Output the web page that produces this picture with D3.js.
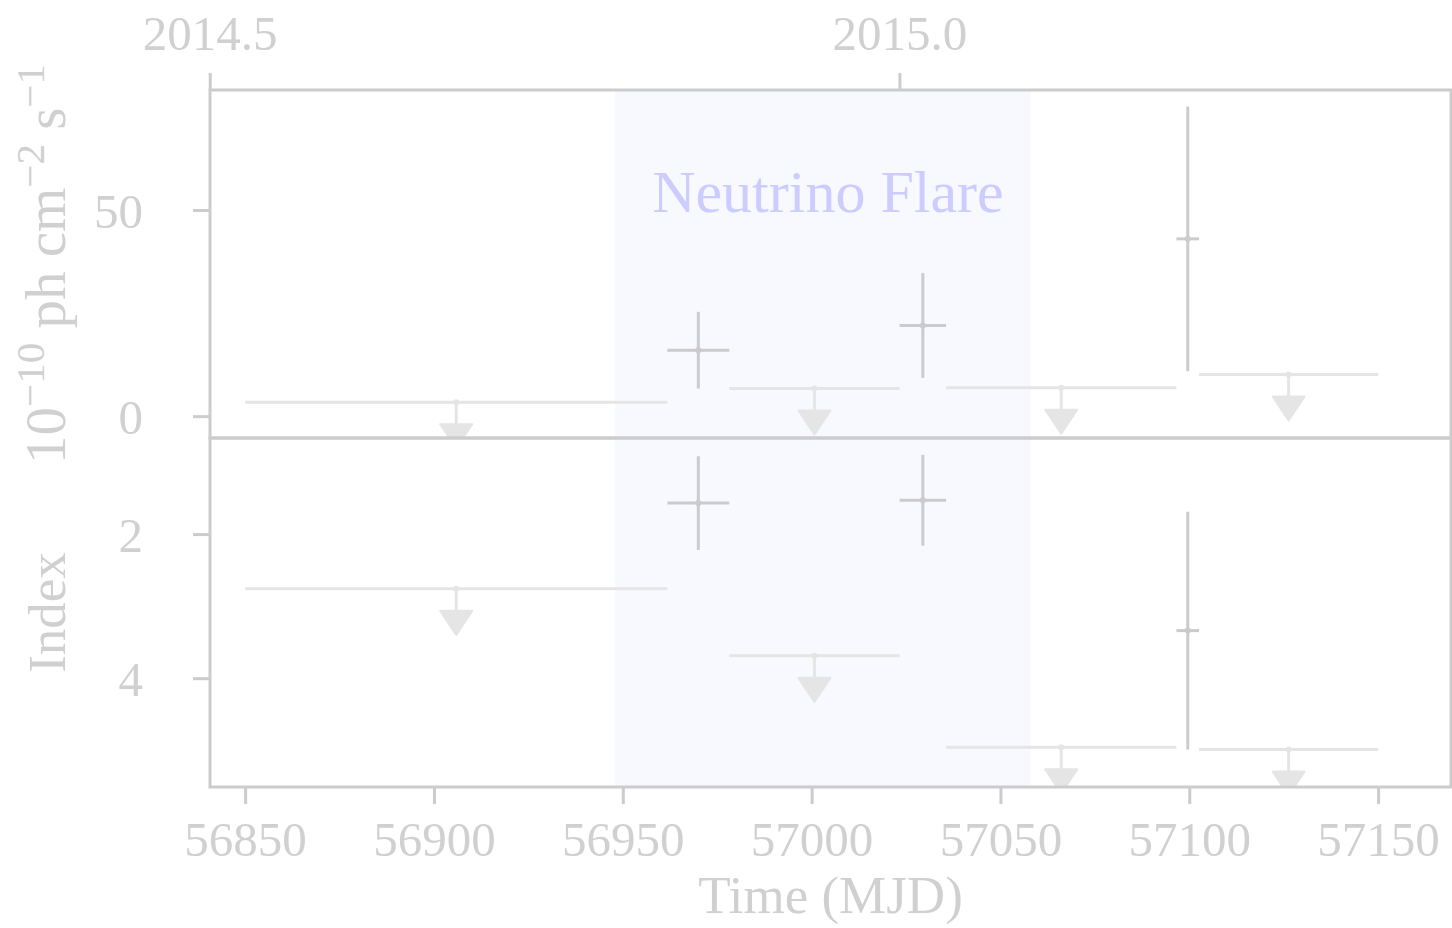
<!DOCTYPE html>
<html>
<head>
<meta charset="utf-8">
<script src="https://cdn.jsdelivr.net/npm/d3@7"></script>
<style>
  html, body { margin: 0; padding: 0; background: #ffffff; }
  svg { display: block; }
  text { font-family: "Liberation Serif", "Times New Roman", serif; }
</style>
</head>
<body>
<svg id="chart" width="1452" height="928"></svg>
<script>
// Fermi-LAT light curve: photon flux and spectral index per time bin (MJD)
const binStart = [56850.0, 56961.8, 56978.2, 57023.3, 57035.6, 57096.6, 57102.6];
const binEnd   = [56961.8, 56978.2, 57023.3, 57035.6, 57096.6, 57102.6, 57150.0];
const isUpperLimit = [true, false, true, false, true, false, true];

// flux in units of 1e-10 ph cm^-2 s^-1
const fluxValues = [3.4, 16.0, 6.7, 22.0, 6.9, 43.0, 10.1];
const fluxErrors = [null, 9.3, null, 12.7, null, 32.1, null];

// photon index (axis drawn inverted)
const indexValues = [2.76, 1.57, 3.69, 1.53, 4.96, 3.34, 4.99];
const indexErrors = [null, 0.65, null, 0.63, null, 1.65, null];

// neutrino flare window (MJD)
const flareWindow = [56948, 57058];
const flareLabel = "Neutrino Flare";

const mjdTicks = [56850, 56900, 56950, 57000, 57050, 57100, 57150];
const fluxTicks = [0, 50];
const indexTicks = [2, 4];
const yearTicks = [2014.5, 2015.0];

// layout
const plotLeft = 210, plotRight = 1451;
const topY0 = 90, midY = 438, botY1 = 787;

const spineColor = "#cccccc";
const labelColor = "#d0d0d0";
const detColor = "#cbcbcb";
const ulColor = "#e5e5e5";
const tickFont = 49;

const svg = d3.select("#chart");

const x = d3.scaleLinear().domain([56840.7, 57169.3]).range([plotLeft, plotRight]);
const yFlux = d3.scaleLinear().domain([-5.3, 79.1]).range([midY, topY0]);
const yIndex = d3.scaleLinear().domain([0.667, 5.51]).range([midY, botY1]);

const mjdToYear = m => 2000 + (m - 51544.5) / 365.25;
const xYear = d3.scaleLinear().domain(x.domain().map(mjdToYear)).range(x.range());

const defs = svg.append("defs");
defs.append("clipPath").attr("id", "clipTop")
  .append("rect").attr("x", plotLeft).attr("y", topY0)
  .attr("width", plotRight - plotLeft).attr("height", midY - topY0);
defs.append("clipPath").attr("id", "clipBot")
  .append("rect").attr("x", plotLeft).attr("y", midY)
  .attr("width", plotRight - plotLeft).attr("height", botY1 - midY);

const rows = binStart.map((s, i) => ({
  start: s, end: binEnd[i], mid: (s + binEnd[i]) / 2, ul: isUpperLimit[i],
  flux: fluxValues[i], fluxErr: fluxErrors[i],
  index: indexValues[i], indexErr: indexErrors[i]
}));

function drawPanel(clipId, y, valueKey, errKey, yTop, yBottom) {
  const g = svg.append("g").attr("clip-path", `url(#${clipId})`);

  // shaded flare window
  g.append("rect")
    .attr("x", x(flareWindow[0])).attr("width", x(flareWindow[1]) - x(flareWindow[0]))
    .attr("y", yTop).attr("height", yBottom - yTop)
    .attr("fill", "#f8f8ff");

  const ul = rows.filter(d => d.ul);
  const det = rows.filter(d => !d.ul);
  const stem = 22, headH = 24, headW = 16;

  // upper limits: horizontal bin bar + downward arrow
  g.selectAll(".ulbar").data(ul).enter().append("line")
    .attr("x1", d => x(d.start)).attr("x2", d => x(d.end))
    .attr("y1", d => y(d[valueKey])).attr("y2", d => y(d[valueKey]))
    .attr("stroke", ulColor).attr("stroke-width", 3);
  g.selectAll(".ulstem").data(ul).enter().append("line")
    .attr("x1", d => x(d.mid)).attr("x2", d => x(d.mid))
    .attr("y1", d => y(d[valueKey])).attr("y2", d => y(d[valueKey]) + stem + 2)
    .attr("stroke", ulColor).attr("stroke-width", 3);
  g.selectAll(".ulhead").data(ul).enter().append("path")
    .attr("d", d => {
      const cx = x(d.mid), t = y(d[valueKey]) + stem;
      return `M${cx - headW},${t}L${cx + headW},${t}L${cx},${t + headH}Z`;
    })
    .attr("fill", ulColor).attr("stroke", ulColor)
    .attr("stroke-width", 2).attr("stroke-linejoin", "round");
  g.selectAll(".uldot").data(ul).enter().append("circle")
    .attr("cx", d => x(d.mid)).attr("cy", d => y(d[valueKey])).attr("r", 3)
    .attr("fill", ulColor);

  // detections: x (bin) and y error bars
  g.selectAll(".xerr").data(det).enter().append("line")
    .attr("x1", d => x(d.start)).attr("x2", d => x(d.end))
    .attr("y1", d => y(d[valueKey])).attr("y2", d => y(d[valueKey]))
    .attr("stroke", detColor).attr("stroke-width", 3);
  g.selectAll(".yerr").data(det).enter().append("line")
    .attr("x1", d => x(d.mid)).attr("x2", d => x(d.mid))
    .attr("y1", d => y(d[valueKey] - d[errKey])).attr("y2", d => y(d[valueKey] + d[errKey]))
    .attr("stroke", detColor).attr("stroke-width", 3);
  g.selectAll(".dot").data(det).enter().append("circle")
    .attr("cx", d => x(d.mid)).attr("cy", d => y(d[valueKey])).attr("r", 3)
    .attr("fill", detColor);
  return g;
}

const gTop = drawPanel("clipTop", yFlux, "flux", "fluxErr", topY0, midY);
drawPanel("clipBot", yIndex, "index", "indexErr", midY, botY1);

// flare label
gTop.append("text")
  .attr("x", x(d3.mean(flareWindow)) + 5).attr("y", 212)
  .attr("text-anchor", "middle")
  .attr("font-size", 60)
  .attr("fill", "#ccccff")
  .text(flareLabel);

// axes
function styleAxis(g) {
  g.select(".domain").remove();
  g.selectAll(".tick line").attr("stroke", spineColor).attr("stroke-width", 3);
  g.selectAll(".tick text")
    .attr("fill", labelColor)
    .attr("font-size", tickFont)
    .attr("font-family", "Liberation Serif, Times New Roman, serif");
}

const gx = svg.append("g").attr("transform", `translate(0,${botY1})`)
  .call(d3.axisBottom(x).tickValues(mjdTicks).tickFormat(d3.format("d")).tickSize(17).tickPadding(16).tickSizeOuter(0));
styleAxis(gx);
gx.selectAll(".tick text").attr("dy", "0.71em").attr("y", 34);

const gyTop = svg.append("g").attr("transform", `translate(${plotLeft},0)`)
  .call(d3.axisLeft(yFlux).tickValues(fluxTicks).tickFormat(d3.format("d")).tickSize(17).tickPadding(50).tickSizeOuter(0));
styleAxis(gyTop);
gyTop.selectAll(".tick text").attr("dy", "0.36em");

const gyBot = svg.append("g").attr("transform", `translate(${plotLeft},0)`)
  .call(d3.axisLeft(yIndex).tickValues(indexTicks).tickFormat(d3.format("d")).tickSize(17).tickPadding(50).tickSizeOuter(0));
styleAxis(gyBot);
gyBot.selectAll(".tick text").attr("dy", "0.36em");

const gYear = svg.append("g").attr("transform", `translate(0,${topY0})`)
  .call(d3.axisTop(xYear).tickValues(yearTicks).tickFormat(d3.format(".1f")).tickSize(17).tickPadding(23).tickSizeOuter(0));
styleAxis(gYear);

// panel frames
const frames = svg.append("g").attr("fill", "none").attr("stroke", spineColor).attr("stroke-width", 3);
frames.append("rect").attr("x", plotLeft).attr("y", topY0)
  .attr("width", plotRight - plotLeft).attr("height", midY - topY0);
frames.append("rect").attr("x", plotLeft).attr("y", midY)
  .attr("width", plotRight - plotLeft).attr("height", botY1 - midY);

// axis titles
svg.append("text")
  .attr("x", (plotLeft + plotRight) / 2).attr("y", 913)
  .attr("text-anchor", "middle").attr("font-size", 53).attr("fill", labelColor)
  .text("Time (MJD)");

svg.append("text")
  .attr("transform", `translate(65,${(midY + botY1) / 2}) rotate(-90)`)
  .attr("text-anchor", "middle").attr("font-size", 53).attr("fill", labelColor)
  .text("Index");

const fluxLabel = svg.append("text")
  .attr("transform", `translate(65,${(topY0 + midY) / 2}) rotate(-90)`)
  .attr("text-anchor", "middle").attr("font-size", 57).attr("fill", labelColor);
const supShift = 21, supSize = 41;
fluxLabel.append("tspan").text("10");
fluxLabel.append("tspan").attr("dy", -supShift).attr("font-size", supSize).text("\u221210");
fluxLabel.append("tspan").attr("dy", supShift).text(" ph cm");
fluxLabel.append("tspan").attr("dy", -supShift).attr("font-size", supSize).text("\u22122");
fluxLabel.append("tspan").attr("dy", supShift).text(" s");
fluxLabel.append("tspan").attr("dy", -supShift).attr("font-size", supSize).text("\u22121");
</script>
</body>
</html>
